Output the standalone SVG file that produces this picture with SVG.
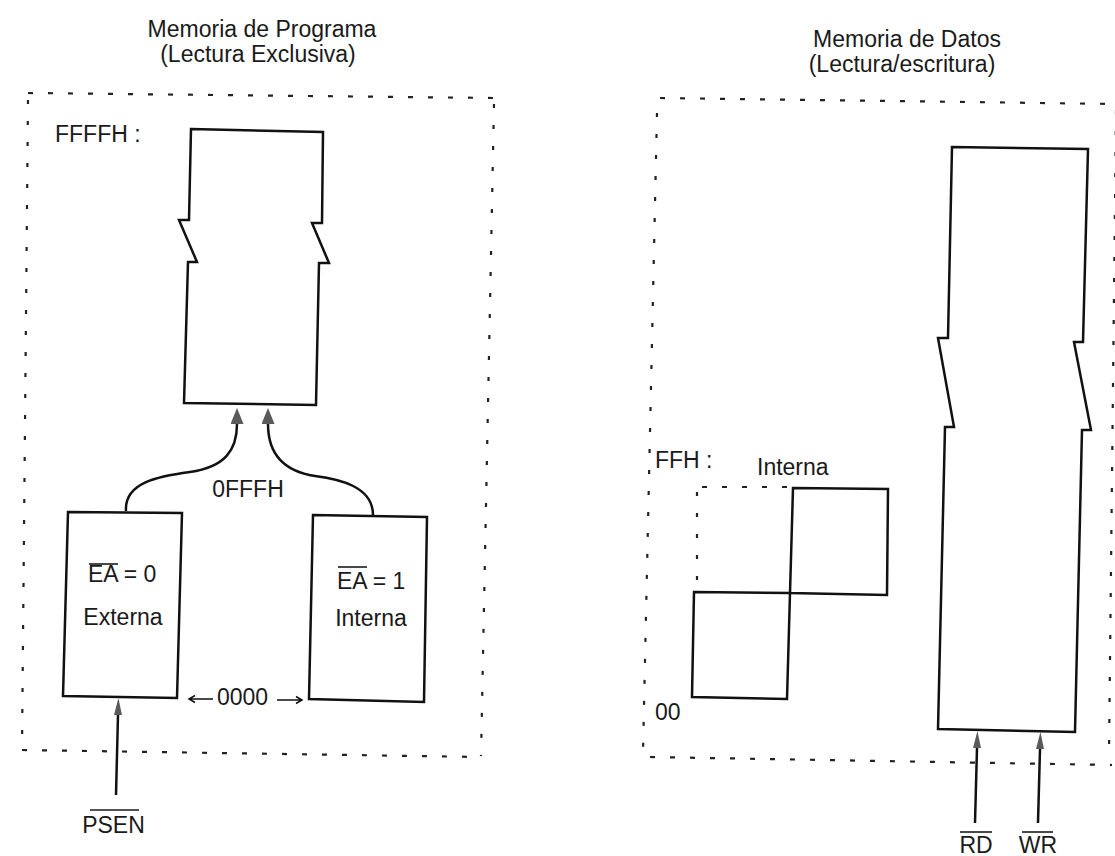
<svg xmlns="http://www.w3.org/2000/svg" width="1115" height="856" viewBox="0 0 1115 856">
<style>
.t{font-family:"Liberation Sans",Arial,sans-serif;font-size:23px;fill:#1a1a1a}
.m{text-anchor:middle}
.box{fill:none;stroke:#111;stroke-width:2.5;stroke-linejoin:miter}
.dot{fill:none;stroke:#222;stroke-width:2.2;stroke-dasharray:5 15}
.dotv{fill:none;stroke:#222;stroke-width:2.2;stroke-dasharray:4 17}
.wire{fill:none;stroke:#111;stroke-width:2.5}
.thin{fill:none;stroke:#111;stroke-width:1.5}
.ov{stroke:#1a1a1a;stroke-width:1.6}
</style>
<defs>
<marker id="bigHead" markerUnits="userSpaceOnUse" markerWidth="18" markerHeight="14" refX="0" refY="6.5" orient="auto">
<path d="M0,0 L16,6.5 L0,13 z" fill="#5a5a5a"/>
</marker>
<marker id="smallHead" markerUnits="userSpaceOnUse" markerWidth="19" markerHeight="9" refX="0" refY="4" orient="auto">
<path d="M0,0 L17,4 L0,8 z" fill="#5a5a5a"/>
</marker>
</defs>
<rect width="1115" height="856" fill="#fff"/>

<g id="titles">
<text class="t m" x="262" y="37">Memoria de Programa</text>
<text class="t m" x="258" y="62">(Lectura Exclusiva)</text>
<text class="t m" x="907" y="47">Memoria de Datos</text>
<text class="t m" x="902" y="72">(Lectura/escritura)</text>
</g>

<g id="program-region">
<path class="dot" d="M28,93 L495,98"/>
<path class="dot" d="M22,750 L481,757"/>
<path class="dotv" d="M28,100 L22,748"/>
<path class="dotv" d="M494,104 L481,756"/>
<text class="t" x="55" y="142">FFFFH :</text>
</g>

<g id="program-memory">
<path class="box" d="M191,129 L323,132 L322,223 L312,223 L329,263 L319,263 L316,405 L184,403 L188,262 L197,262 L179,220 L189,220 Z"/>
</g>

<g id="externa">
<path class="box" d="M68,512 L182,513 L177,698 L63,696 Z"/>
<text class="t" x="88" y="582">EA = 0</text>
<line class="ov" x1="89" y1="564" x2="118" y2="564"/>
<text class="t m" x="123" y="625">Externa</text>
</g>

<g id="interna-prog">
<path class="box" d="M313,515 L427,517 L424,702 L309,699 Z"/>
<text class="t" x="337" y="589">EA = 1</text>
<line class="ov" x1="338" y1="567" x2="367" y2="567"/>
<text class="t m" x="371" y="626">Interna</text>
</g>

<g id="labels-prog">
<text class="t m" x="248" y="497">0FFFH</text>
<text class="t m" x="242.5" y="705">0000</text>
<text class="t m" x="113.5" y="833">PSEN</text>
<line class="ov" x1="90" y1="810" x2="139" y2="810"/>
</g>

<g id="data-region">
<path class="dot" d="M660,98 L1118,104"/>
<path class="dot" d="M650,757 L1112,765"/>
<path class="dotv" d="M657,113 L643,752"/>
<path class="dotv" d="M1116,110 L1109,752"/>
<text class="t" x="655" y="468">FFH :</text>
<text class="t" x="655" y="720">00</text>
</g>

<g id="internal-ram">
<path class="dot" d="M787,487 L697,487"/>
<path class="dotv" d="M697,492 L697,588"/>
<text class="t" x="757" y="475">Interna</text>
<path class="box" d="M793,488 L888,489 L887,595 L790,593 Z"/>
<path class="box" d="M694,592 L790,593 L787,699 L692,697 Z"/>
</g>

<g id="data-memory">
<path class="box" d="M952,147 L1088,149 L1083,342 L1074,342 L1091,430 L1082,430 L1075,732 L938,729 L945,427 L954,427 L938,338 L948,338 Z"/>
</g>

<g id="signals-data">
<text class="t m" x="976" y="853">RD</text>
<line class="ov" x1="960" y1="832" x2="992" y2="832"/>
<text class="t m" x="1038" y="853">WR</text>
<line class="ov" x1="1022" y1="832" x2="1053" y2="832"/>
</g>

<g id="connectors">
<path class="wire" d="M126,511 C124,482 160,476 190,472 C225,467 237,450 237,424" marker-end="url(#bigHead)"/>
<path class="wire" d="M373,515 C373,486 338,479 315,476 C282,471 268,452 268,424" marker-end="url(#bigHead)"/>
<path class="wire" d="M116,795 L118,715" marker-end="url(#smallHead)"/>
<path class="wire" d="M975,823 L977,748" marker-end="url(#smallHead)"/>
<path class="wire" d="M1038,823 L1040,749" marker-end="url(#smallHead)"/>
<path class="thin" d="M213,699 L189,699 M195,695.5 L189,699 L195,702.5"/>
<path class="thin" d="M277,700 L302,700 M296,696.5 L302,700 L296,703.5"/>
</g>
</svg>
